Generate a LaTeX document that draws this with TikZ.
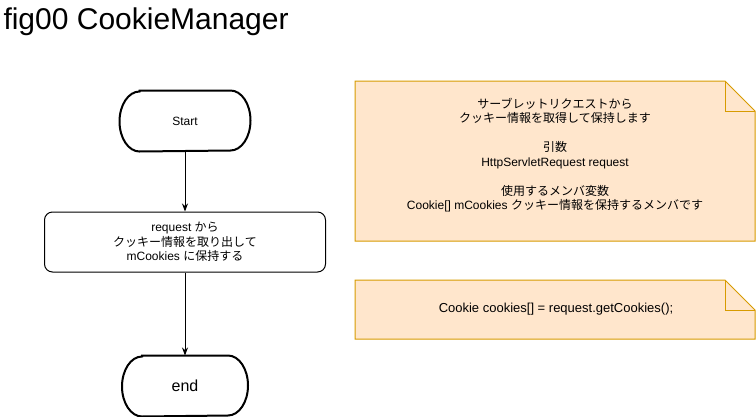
\documentclass[tikz,border=0pt]{standalone}
\usepackage{fontspec}
\setmainfont{Liberation Sans}
\newfontfamily\cjk{Noto Sans CJK JP}
\usetikzlibrary{positioning,arrows.meta}
\definecolor{NoteFill}{HTML}{FFE6CC}
\definecolor{NoteLine}{HTML}{D79B00}
\tikzstyle{TermNode}=[minimum height=60pt, inner sep=0pt, font=\fontsize{12}{14.5}\selectfont]
\tikzstyle{StepNode}=[rectangle, draw=black, rounded corners=8pt, minimum width=281pt, minimum height=60pt, inner sep=0pt, align=center, font=\fontsize{12}{14.5}\selectfont]
\tikzstyle{NoteText}=[inner sep=0pt, align=center, font=\fontsize{12}{14.5}\selectfont]

\begin{document}
\begin{tikzpicture}[x=1pt, y=-1pt, line width=1pt, >={Stealth[length=8pt, width=6pt, inset=2.5pt]}]
      \useasboundingbox (0,0) rectangle (756,416);
      \node[anchor=base west, inner sep=0pt, font=\fontsize{30}{36}\selectfont] (title) at (3,29) {fig00 CookieManager};
      % flow
      \node[TermNode, minimum width=130pt] (start) at (185,121) {Start};
      \node[StepNode] (fetch) [below=60pt of start] {request {\cjk から}\\{\cjk クッキー情報を取り出して}\\mCookies {\cjk に保持する}};
      \node[TermNode, minimum width=125pt, font=\fontsize{16}{19}\selectfont] (stop) [below=83pt of fetch] {end};
      \foreach \n in {start,stop}
        \draw[line width=2pt] ([xshift=20pt]\n.north west) -- ([xshift=-20pt]\n.north east)
          arc[start angle=90, end angle=-90, x radius=20pt, y radius=30pt]
          -- ([xshift=20pt]\n.south west)
          arc[start angle=270, end angle=90, x radius=20pt, y radius=30pt] -- cycle;
      \draw[->] (start) -- (fetch);
      \draw[->] (fetch) -- (stop);
      % notes
      \foreach \y/\h in {81/160, 280/59} {
        \draw[NoteLine, fill=NoteFill] (355,\y) -- (725,\y) -- (755,\y+30) -- (755,\y+\h) -- (355,\y+\h) -- cycle;
        \draw[NoteLine] (725,\y) -- (725,\y+30) -- (755,\y+30);
      }
      \node[NoteText] (noteA) at (555,155) {{\cjk サーブレットリクエストから}\\{\cjk クッキー情報を取得して保持します}\\[14.5pt]
        {\cjk 引数}\\HttpServletRequest request\\[14.5pt]
        {\cjk 使用するメンバ変数}\\Cookie[] mCookies {\cjk クッキー情報を保持するメンバです}};
      \node[NoteText, font=\fontsize{13}{16}\selectfont] (noteB) at (556,309) {Cookie cookies[] = request.getCookies();};
    \end{tikzpicture}
\end{document}
